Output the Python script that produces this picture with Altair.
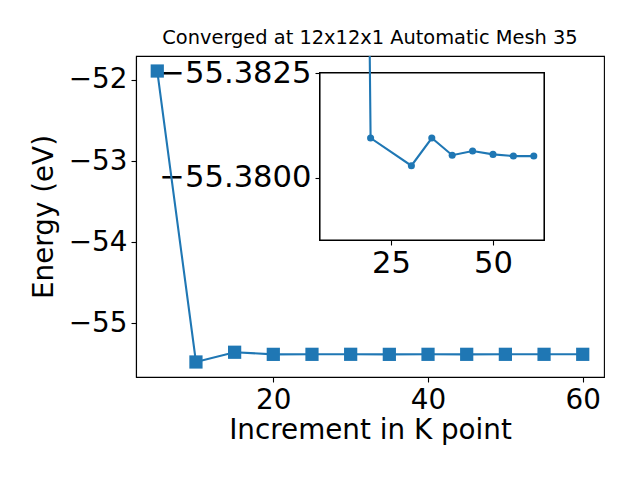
import altair as alt
import pandas as pd

# Main series
main_x = [5, 10, 15, 20, 25, 30, 35, 40, 45, 50, 55, 60]
main_y = [-51.89, -55.475, -55.355, -55.38095, -55.3806, -55.38029, -55.38095,
          -55.38054, -55.38064, -55.38056, -55.38052, -55.38052]

# Inset series
inset_x = [10, 20, 30, 35, 40, 45, 50, 55, 60]
inset_y = [-55.475, -55.38095, -55.38029, -55.38095, -55.38054, -55.38064,
           -55.38056, -55.38052, -55.38052]

main_ticks = [-52, -53, -54, -55]
inset_yticks = [-55.3825, -55.3800]
inset_xticks = [25, 50]

main_df = pd.DataFrame({"k": main_x, "E": main_y})
inset_df = pd.DataFrame({"k": inset_x, "E": inset_y})

BLUE = "#1f77b4"
FONT = "DejaVu Sans"
W, H = 468, 321
FS = 27.8
IFS = 30.6

minus = "replace(datum.label, '-', '\u2212')"

xs = alt.Scale(domain=[2.25, 62.75], nice=False, zero=False)
ys = alt.Scale(domain=[-55.66, -51.705], nice=False, zero=False)

base = alt.Chart(main_df)
main_line = base.mark_line(color=BLUE, strokeWidth=2.1).encode(
    x=alt.X("k:Q", scale=xs, title="Increment in K point",
            axis=alt.Axis(values=[20, 40, 60], format="d", labelFontSize=FS,
                          titleFontSize=FS, labelPadding=4, titlePadding=3,
                          tickSize=5, grid=False)),
    y=alt.Y("E:Q", scale=ys, title="Energy (eV)",
            axis=alt.Axis(values=main_ticks, format="d", labelExpr=minus,
                          labelFontSize=FS, titleFontSize=FS, labelPadding=4,
                          titlePadding=10, tickSize=5, grid=False)),
)
main_pts = base.mark_square(color=BLUE, size=175, opacity=1).encode(
    x=alt.X("k:Q", scale=xs), y=alt.Y("E:Q", scale=ys))

frame = alt.Chart(main_df).mark_rect(fill="white", stroke="black", strokeWidth=1.1).encode(
    x=alt.value(184), x2=alt.value(408), y=alt.value(17), y2=alt.value(184))

ixs = alt.Scale(domain=[7.6, 62.5], range=[184, 408], nice=False, zero=False)
iys = alt.Scale(domain=[-55.3825, -55.37852], range=[17, 184], nice=False, zero=False)

ibase = alt.Chart(inset_df)
inset_line = ibase.mark_line(color=BLUE, strokeWidth=2.1, clip=True).encode(
    x=alt.X("k:Q", scale=ixs, title=None,
            axis=alt.Axis(orient="bottom", offset=-(H - 184), values=inset_xticks,
                          format="d", labelFontSize=IFS, labelPadding=3, tickSize=5,
                          grid=False, domain=False)),
    y=alt.Y("E:Q", scale=iys, title=None,
            axis=alt.Axis(orient="left", offset=-184, values=inset_yticks,
                          format=".4f", labelExpr=minus, labelFontSize=IFS,
                          labelPadding=4, tickSize=5, grid=False, domain=False)),
)
inset_pts = ibase.mark_circle(color=BLUE, size=50, opacity=1, clip=True).encode(
    x=alt.X("k:Q", scale=ixs), y=alt.Y("E:Q", scale=iys))

main = alt.layer(main_line, main_pts)
inset = alt.layer(inset_line, inset_pts)

chart = alt.layer(main, frame, inset).resolve_scale(
    x="independent", y="independent"
).resolve_axis(x="independent", y="independent").properties(
    width=W, height=H,
    background="white",
    title=alt.Title("Converged at 12x12x1 Automatic Mesh 35", fontSize=19.4,
                    font=FONT, fontWeight="normal", offset=8, color="black"),
    autosize=alt.AutoSizeParams(type="none"),
    padding={"left": 128, "top": 48, "right": 20, "bottom": 90},
).configure_view(stroke="black", strokeWidth=1.1).configure_axis(
    labelFont=FONT, titleFont=FONT, labelColor="black", titleColor="black",
    tickColor="black", domainColor="black", titleFontWeight="normal", zindex=1,
    tickWidth=1.1, domainWidth=1.1,
)

chart.save("out.html", embed_options={"renderer": "svg", "actions": False})
